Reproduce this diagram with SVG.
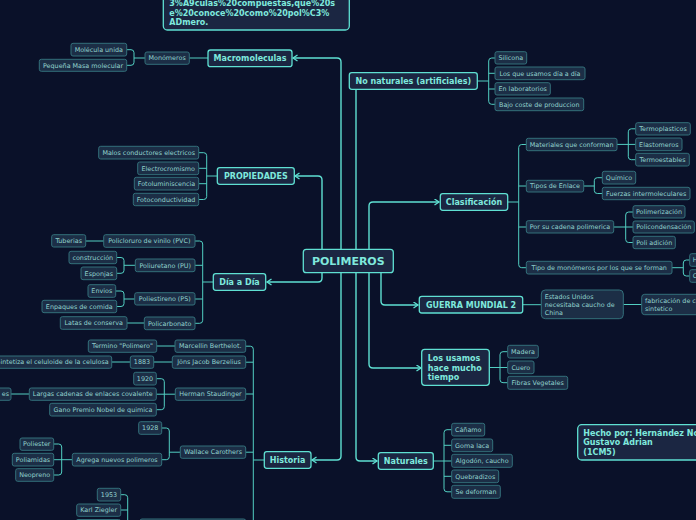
<svg xmlns="http://www.w3.org/2000/svg" width="696" height="520" viewBox="0 0 696 520">
<style>
.m{fill:#1b2642;stroke:#5fe0d2;stroke-width:1.3}
.mt{font-family:"DejaVu Sans",sans-serif;font-weight:bold;font-size:8px;fill:#7fe9dd}
.s{fill:#1c2e46;stroke:#33707b;stroke-width:1}
.st{font-family:"DejaVu Sans",sans-serif;font-size:6.4px;fill:#92d3ce}
.c{fill:none;stroke:#5fe0d2;stroke-width:1.4}
.sc{fill:none;stroke:#52cfc2;stroke-width:1}
</style>
<defs>
<marker id="ar" markerWidth="8" markerHeight="8" refX="5" refY="3.5" orient="auto" markerUnits="userSpaceOnUse">
<path d="M0.5,0.5 L5,3.5 L0.5,6.5" fill="none" stroke="#5fe0d2" stroke-width="1.3"/>
</marker>
</defs>
<rect width="696" height="520" fill="#0a1129"/>

<g id="connectors">
<path class="c" d="M341,249 V62 Q341,58 337,58 H293" marker-end="url(#ar)"/>
<path class="c" d="M341,273 V456 Q341,460 337,460 H312" marker-end="url(#ar)"/>
<path class="c" d="M322,249 V180 Q322,176 318,176 H295" marker-end="url(#ar)"/>
<path class="c" d="M322,273 V278 Q322,282 318,282 H267" marker-end="url(#ar)"/>
<path class="c" d="M356,249 V89.5"/>
<path class="c" d="M356,273 V457 Q356,461 360,461 H377" marker-end="url(#ar)"/>
<path class="c" d="M369,249 V206 Q369,202 373,202 H439" marker-end="url(#ar)"/>
<path class="c" d="M369,273 V364 Q369,368 373,368 H421" marker-end="url(#ar)"/>
<path class="c" d="M381,273 V301 Q381,305 385,305 H418" marker-end="url(#ar)"/>

<path class="sc" d="M189,58 H208"/>
<path class="sc" d="M127,49.7 H131 Q134,49.7 134,52.7 V62.3 Q134,65.3 131,65.3 H127 M134,58 H145"/>
<path class="sc" d="M199,152.7 H203.7 Q206.7,152.7 206.7,155.7 V196.5 Q206.7,199.5 203.7,199.5 H199 M199,168.3 H206.7 M199,183.7 H206.7 M206.7,176 H217"/>
<path class="sc" d="M195,241 H199.7 Q202.7,241 202.7,244 V320.3 Q202.7,323.3 199.7,323.3 H195 M195,265.3 H202.7 M195,299 H202.7 M202.7,282 H213"/>
<path class="sc" d="M86,241 H104"/>
<path class="sc" d="M117,257.5 H121 Q124,257.5 124,260.5 V270.3 Q124,273.3 121,273.3 H117 M124,265.3 H135"/>
<path class="sc" d="M116,291 H121 Q124,291 124,294 V303.5 Q124,306.5 121,306.5 H117 M124,299 H135"/>
<path class="sc" d="M127,323 H144"/>
<path class="sc" d="M245.7,346.2 H250.3 Q253.3,346.2 253.3,349.2 V530 M245.7,362.2 H253.3 M245.7,394 H253.3 M245.7,452.2 H253.3 M253.3,460 H264"/>
<path class="sc" d="M156.7,346 H175 M153.7,362 H172 M111.7,362 H130"/>
<path class="sc" d="M156.3,378.7 H161.3 Q164.3,378.7 164.3,381.7 V406.7 Q164.3,409.7 161.3,409.7 H156.3 M156.3,394.2 H175"/>
<path class="sc" d="M11,394 H29"/>
<path class="sc" d="M161.7,428 H166.3 Q169.3,428 169.3,431 V456.7 Q169.3,459.7 166.3,459.7 H161.7 M169.3,452.2 H180"/>
<path class="sc" d="M53.7,444 H58.7 Q61.7,444 61.7,447 V472 Q61.7,475 58.7,475 H53.7 M53.7,459.7 H72"/>
<path class="sc" d="M120.7,494.7 H124.7 Q127.7,494.7 127.7,497.7 V530 M120.7,510 H127.7"/>
<path class="sc" d="M495,58 H491.7 Q488.7,58 488.7,61 V101.3 Q488.7,104.3 491.7,104.3 H495 M495,73.3 H488.7 M495,89 H488.7 M477,81 H488.7"/>
<path class="sc" d="M526.3,144.5 H521.7 Q518.7,144.5 518.7,147.5 V264.7 Q518.7,267.7 521.7,267.7 H526.3 M526.3,186 H518.7 M526.3,227 H518.7 M508,202 H518.7"/>
<path class="sc" d="M635.7,128.8 H631.3 Q628.3,128.8 628.3,131.8 V156.7 Q628.3,159.7 631.3,159.7 H635.7 M617,144.4 H635.7"/>
<path class="sc" d="M602.3,177.7 H597.3 Q594.3,177.7 594.3,180.7 V190.5 Q594.3,193.5 597.3,193.5 H602.3 M583.7,186 H594.3"/>
<path class="sc" d="M633,212 H628.7 Q625.7,212 625.7,215 V239.5 Q625.7,242.5 628.7,242.5 H633 M613.7,227 H633"/>
<path class="sc" d="M689.7,260 H686.3 Q683.3,260 683.3,263 V273 Q683.3,276 686.3,276 H689.7 M672,267.7 H683.3"/>
<path class="sc" d="M522.7,304.7 H541.3 M623.3,304.5 H641.7"/>
<path class="sc" d="M507.7,351.7 H503 Q500,351.7 500,354.7 V379.7 Q500,382.7 503,382.7 H507.7 M489.3,367.5 H507.7"/>
<path class="sc" d="M451.7,429.7 H447 Q444,429.7 444,432.7 V488.8 Q444,491.8 447,491.8 H451.7 M451.7,445.3 H444 M451.7,476.3 H444 M433.3,461 H451.7"/>
</g>

<g id="note-top">
<rect class="m" x="163.3" y="-40" width="186" height="70" rx="4" fill="#1e2746"/>
<text class="mt" x="169.3" y="6.2">3%A9culas%20compuestas,que%20s</text>
<text class="mt" x="169.3" y="15.9">e%20conoce%20como%20pol%C3%</text>
<text class="mt" x="169.3" y="25.3">ADmero.</text>
</g>

<g id="polimeros">
<rect class="m" x="303.3" y="249.3" width="90" height="23.4" rx="3" stroke-width="1.6"/>
<text class="mt" x="348.3" y="265" text-anchor="middle" font-size="11px" style="font-size:11px">POLIMEROS</text>
</g>

<g id="macromoleculas">
<rect class="m" x="208" y="50" width="84" height="16.7" rx="2.5"/>
<text class="mt" x="250" y="61.3" text-anchor="middle">Macromoleculas</text>
</g>
<g id="monomeros"><rect class="s" x="145" y="52" width="44.3" height="12.3" rx="2"/><text class="st" x="167.1" y="60.4" text-anchor="middle">Monómeros</text></g>
<g id="molecula-unida"><rect class="s" x="71" y="43.3" width="55.7" height="12.7" rx="2"/><text class="st" x="98.8" y="51.9" text-anchor="middle">Molécula unida</text></g>
<g id="pequena-masa"><rect class="s" x="39.3" y="59.3" width="87.4" height="12" rx="2"/><text class="st" x="83" y="67.6" text-anchor="middle">Pequeña Masa molecular</text></g>

<g id="propiedades">
<rect class="m" x="217.3" y="167.7" width="77" height="16.6" rx="2.5"/>
<text class="mt" x="255.8" y="178.9" text-anchor="middle">PROPIEDADES</text>
</g>
<g id="malos-conductores"><rect class="s" x="98.7" y="146.3" width="100" height="12.7" rx="2"/><text class="st" x="148.7" y="154.9" text-anchor="middle">Malos conductores electricos</text></g>
<g id="electrocromismo"><rect class="s" x="137.7" y="162" width="61" height="12.7" rx="2"/><text class="st" x="168.2" y="170.6" text-anchor="middle">Electrocromismo</text></g>
<g id="fotoluminiscencia"><rect class="s" x="134.3" y="177.3" width="64.4" height="12.7" rx="2"/><text class="st" x="166.5" y="185.9" text-anchor="middle">Fotoluminiscencia</text></g>
<g id="fotoconductividad"><rect class="s" x="133.3" y="193.3" width="65.4" height="12.4" rx="2"/><text class="st" x="166" y="201.8" text-anchor="middle">Fotoconductividad</text></g>

<g id="dia-a-dia">
<rect class="m" x="213.3" y="273.7" width="52.4" height="16.6" rx="2.5"/>
<text class="mt" x="239.5" y="284.9" text-anchor="middle">Día a Día</text>
</g>
<g id="pvc"><rect class="s" x="103.7" y="234.7" width="91.3" height="12.6" rx="2"/><text class="st" x="149.3" y="243.3" text-anchor="middle">Policloruro de vinilo (PVC)</text></g>
<g id="pu"><rect class="s" x="135.3" y="259" width="59.7" height="12.7" rx="2"/><text class="st" x="165.2" y="267.6" text-anchor="middle">Poliuretano (PU)</text></g>
<g id="ps"><rect class="s" x="134.7" y="292.7" width="60.3" height="12.3" rx="2"/><text class="st" x="164.8" y="301.1" text-anchor="middle">Poliestireno (PS)</text></g>
<g id="policarbonato"><rect class="s" x="144.3" y="317" width="50.7" height="12.7" rx="2"/><text class="st" x="169.7" y="325.6" text-anchor="middle">Policarbonato</text></g>
<g id="tuberias"><rect class="s" x="51.7" y="234.7" width="34" height="12.3" rx="2"/><text class="st" x="68.7" y="243.1" text-anchor="middle">Tuberias</text></g>
<g id="construccion"><rect class="s" x="69" y="251.3" width="47.7" height="12.4" rx="2"/><text class="st" x="92.8" y="259.8" text-anchor="middle">construcción</text></g>
<g id="esponjas"><rect class="s" x="81" y="267" width="35.7" height="12.7" rx="2"/><text class="st" x="98.8" y="275.6" text-anchor="middle">Esponjas</text></g>
<g id="envios"><rect class="s" x="88" y="284.7" width="27.7" height="12.6" rx="2"/><text class="st" x="101.8" y="293.3" text-anchor="middle">Envios</text></g>
<g id="enpaques"><rect class="s" x="42" y="300.3" width="74.7" height="12.4" rx="2"/><text class="st" x="79.3" y="308.8" text-anchor="middle">Enpaques de comida</text></g>
<g id="latas"><rect class="s" x="60.3" y="316.7" width="66.7" height="12.6" rx="2"/><text class="st" x="93.7" y="325.3" text-anchor="middle">Latas de conserva</text></g>

<g id="historia">
<rect class="m" x="264.3" y="451.7" width="46.7" height="16.6" rx="2.5"/>
<text class="mt" x="287.6" y="462.9" text-anchor="middle">Historia</text>
</g>
<g id="berthelot"><rect class="s" x="175" y="340" width="70.7" height="12.3" rx="2"/><text class="st" x="210.3" y="348.4" text-anchor="middle">Marcellin Berthelot.</text></g>
<g id="berzelius"><rect class="s" x="172.3" y="356" width="73.4" height="12.3" rx="2"/><text class="st" x="209" y="364.4" text-anchor="middle">Jöns Jacob Berzelius</text></g>
<g id="staudinger"><rect class="s" x="175.3" y="388" width="70.4" height="12.3" rx="2"/><text class="st" x="210.5" y="396.4" text-anchor="middle">Herman Staudinger</text></g>
<g id="carothers"><rect class="s" x="180.3" y="446" width="65.4" height="12.3" rx="2"/><text class="st" x="213" y="454.4" text-anchor="middle">Wallace Carothers</text></g>
<g id="historia-5"><rect class="s" x="140" y="519" width="105.7" height="12.3" rx="2"/></g>
<g id="termino"><rect class="s" x="88.3" y="340" width="68.4" height="12.3" rx="2"/><text class="st" x="122.5" y="348.4" text-anchor="middle">Termino "Polimero"</text></g>
<g id="y1883"><rect class="s" x="130.3" y="356" width="23.4" height="12.3" rx="2"/><text class="st" x="142" y="364.4" text-anchor="middle">1883</text></g>
<g id="celuloide"><rect class="s" x="-40" y="356" width="151.7" height="12.3" rx="2"/><text class="st" x="108.7" y="364.4" text-anchor="end">Sintetiza el celuloide de la celulosa</text></g>
<g id="y1920"><rect class="s" x="133.7" y="372.3" width="22.6" height="12.7" rx="2"/><text class="st" x="145" y="380.9" text-anchor="middle">1920</text></g>
<g id="largas"><rect class="s" x="29.3" y="388" width="127" height="12.3" rx="2"/><text class="st" x="92.8" y="396.4" text-anchor="middle">Largas cadenas de enlaces covalente</text></g>
<g id="largas-hijo"><rect class="s" x="-30" y="388" width="41" height="12.3" rx="2"/><text class="st" x="9" y="396.4" text-anchor="end">es</text></g>
<g id="nobel"><rect class="s" x="49.7" y="403.3" width="106.6" height="12.7" rx="2"/><text class="st" x="103" y="411.9" text-anchor="middle">Gano Premio Nobel de quimica</text></g>
<g id="y1928"><rect class="s" x="138.7" y="421.7" width="23" height="12.6" rx="2"/><text class="st" x="150.2" y="430.3" text-anchor="middle">1928</text></g>
<g id="agrega"><rect class="s" x="72.3" y="453.3" width="89.4" height="12.7" rx="2"/><text class="st" x="117" y="461.9" text-anchor="middle">Agrega nuevos polimeros</text></g>
<g id="poliester"><rect class="s" x="20" y="438" width="33.7" height="12.3" rx="2"/><text class="st" x="36.8" y="446.4" text-anchor="middle">Poliester</text></g>
<g id="poliamidas"><rect class="s" x="12.3" y="453.3" width="41.4" height="12.7" rx="2"/><text class="st" x="33" y="461.9" text-anchor="middle">Poliamidas</text></g>
<g id="neopreno"><rect class="s" x="15.7" y="468.7" width="38" height="12.6" rx="2"/><text class="st" x="34.7" y="477.3" text-anchor="middle">Neopreno</text></g>
<g id="y1953"><rect class="s" x="97.3" y="488.3" width="23.4" height="12.7" rx="2"/><text class="st" x="109" y="496.9" text-anchor="middle">1953</text></g>
<g id="ziegler"><rect class="s" x="76.7" y="504" width="44" height="12.3" rx="2"/><text class="st" x="98.7" y="512.4" text-anchor="middle">Karl Ziegler</text></g>
<g id="hijo-1953"><rect class="s" x="76" y="519.5" width="44.7" height="12.3" rx="2"/></g>

<g id="no-naturales">
<rect class="m" x="349.3" y="72.7" width="128" height="16.6" rx="2.5"/>
<text class="mt" x="413.3" y="83.9" text-anchor="middle">No naturales (artificiales)</text>
</g>
<g id="silicona"><rect class="s" x="495" y="51.7" width="31.7" height="12.3" rx="2"/><text class="st" x="510.8" y="60.1" text-anchor="middle">Silicona</text></g>
<g id="usamos-dia"><rect class="s" x="495" y="67" width="90" height="12.7" rx="2"/><text class="st" x="540" y="75.6" text-anchor="middle">Los que usamos día a día</text></g>
<g id="laboratorios"><rect class="s" x="495" y="82.7" width="55.3" height="12.3" rx="2"/><text class="st" x="522.7" y="91.1" text-anchor="middle">En laboratorios</text></g>
<g id="bajo-coste"><rect class="s" x="495" y="98" width="88.7" height="12.7" rx="2"/><text class="st" x="539.3" y="106.6" text-anchor="middle">Bajo coste de produccion</text></g>

<g id="clasificacion">
<rect class="m" x="440.3" y="193.7" width="67.4" height="16.6" rx="2.5"/>
<text class="mt" x="474" y="204.9" text-anchor="middle">Clasificación</text>
</g>
<g id="materiales"><rect class="s" x="526.3" y="138.3" width="90.7" height="12.4" rx="2"/><text class="st" x="571.7" y="146.8" text-anchor="middle">Materiales que conforman</text></g>
<g id="tipos-enlace"><rect class="s" x="526.3" y="180.3" width="57.4" height="11.7" rx="2"/><text class="st" x="555" y="188.4" text-anchor="middle">Tipos de Enlace</text></g>
<g id="cadena"><rect class="s" x="526.3" y="220.7" width="87.4" height="12.3" rx="2"/><text class="st" x="570" y="229.1" text-anchor="middle">Por su cadena polimerica</text></g>
<g id="tipo-monomeros"><rect class="s" x="526.3" y="261.3" width="145.7" height="12.7" rx="2"/><text class="st" x="599.2" y="269.9" text-anchor="middle">Tipo de monómeros por los que se forman</text></g>
<g id="termoplasticos"><rect class="s" x="635.7" y="122.7" width="54.6" height="12.3" rx="2"/><text class="st" x="663" y="131.1" text-anchor="middle">Termoplasticos</text></g>
<g id="elastomeros"><rect class="s" x="635.7" y="138" width="46.3" height="12.7" rx="2"/><text class="st" x="658.8" y="146.6" text-anchor="middle">Elastomeros</text></g>
<g id="termoestables"><rect class="s" x="635.7" y="153.3" width="53.6" height="12.7" rx="2"/><text class="st" x="662.5" y="161.9" text-anchor="middle">Termoestables</text></g>
<g id="quimico"><rect class="s" x="602.3" y="171.3" width="33.4" height="12.7" rx="2"/><text class="st" x="619" y="179.9" text-anchor="middle">Químico</text></g>
<g id="fuerzas"><rect class="s" x="602.3" y="187.3" width="87.7" height="12.4" rx="2"/><text class="st" x="646.2" y="195.8" text-anchor="middle">Fuerzas intermoleculares</text></g>
<g id="polimerizacion"><rect class="s" x="633" y="205.7" width="52" height="12.3" rx="2"/><text class="st" x="659" y="214.1" text-anchor="middle">Polimerización</text></g>
<g id="policondensacion"><rect class="s" x="633" y="221" width="61.3" height="12" rx="2"/><text class="st" x="663.7" y="229.2" text-anchor="middle">Policondensación</text></g>
<g id="poli-adicion"><rect class="s" x="633" y="236.3" width="42.3" height="12.4" rx="2"/><text class="st" x="654.2" y="244.8" text-anchor="middle">Poli adición</text></g>
<g id="homopolimeros"><rect class="s" x="689.7" y="253.7" width="50" height="12.6" rx="2"/><text class="st" x="692.7" y="262.3">Homopolímeros</text></g>
<g id="copolimeros"><rect class="s" x="689.7" y="269.7" width="50" height="12.6" rx="2"/><text class="st" x="692.7" y="278.3">Copolímeros</text></g>

<g id="guerra">
<rect class="m" x="419.3" y="296.3" width="103.4" height="16.7" rx="2.5"/>
<text class="mt" x="471" y="307.6" text-anchor="middle">GUERRA MUNDIAL 2</text>
</g>
<g id="estados-unidos"><rect class="s" x="541.3" y="290" width="82" height="28.7" rx="4"/>
<text class="st" x="544.7" y="299">Estados Unidos</text>
<text class="st" x="544.7" y="307">necesitaba caucho de</text>
<text class="st" x="544.7" y="314.7">China</text></g>
<g id="fabricacion"><rect class="s" x="641.7" y="294.3" width="80" height="20.4" rx="3"/>
<text class="st" x="645" y="302.6">fabricación de caucho</text>
<text class="st" x="645" y="310.6">sintetico</text></g>

<g id="los-usamos">
<rect class="m" x="421.7" y="349.3" width="67.6" height="36" rx="3"/>
<text class="mt" x="427.7" y="361.2">Los usamos</text>
<text class="mt" x="427.7" y="370.6">hace mucho</text>
<text class="mt" x="427.7" y="380">tiempo</text>
</g>
<g id="madera"><rect class="s" x="507.7" y="345.3" width="30.6" height="12.7" rx="2"/><text class="st" x="523" y="353.9" text-anchor="middle">Madera</text></g>
<g id="cuero"><rect class="s" x="507.7" y="361" width="26.3" height="12.7" rx="2"/><text class="st" x="520.8" y="369.6" text-anchor="middle">Cuero</text></g>
<g id="fibras"><rect class="s" x="507.7" y="376.3" width="60" height="13" rx="2"/><text class="st" x="537.7" y="385" text-anchor="middle">Fibras Vegetales</text></g>

<g id="naturales">
<rect class="m" x="378.3" y="452.7" width="55" height="16.6" rx="2.5"/>
<text class="mt" x="405.8" y="463.9" text-anchor="middle">Naturales</text>
</g>
<g id="canamo"><rect class="s" x="451.7" y="423.3" width="33" height="12.7" rx="2"/><text class="st" x="468.2" y="431.9" text-anchor="middle">Cáñamo</text></g>
<g id="goma-laca"><rect class="s" x="451.7" y="439" width="41" height="12.7" rx="2"/><text class="st" x="472.2" y="447.6" text-anchor="middle">Goma laca</text></g>
<g id="algodon"><rect class="s" x="451.7" y="454.3" width="60.6" height="13" rx="2"/><text class="st" x="482" y="463" text-anchor="middle">Algodón, caucho</text></g>
<g id="quebradizos"><rect class="s" x="451.7" y="470" width="47" height="12.7" rx="2"/><text class="st" x="475.2" y="478.6" text-anchor="middle">Quebradizos</text></g>
<g id="se-deforman"><rect class="s" x="451.7" y="485.3" width="48.6" height="13" rx="2"/><text class="st" x="476" y="494" text-anchor="middle">Se deforman</text></g>

<g id="hecho-por">
<rect class="m" x="577.7" y="424.7" width="140" height="35.3" rx="4" fill="#1e2746"/>
<text class="mt" x="583.3" y="436.2">Hecho por: Hernández No</text>
<text class="mt" x="583.3" y="445.3">Gustavo Adrian</text>
<text class="mt" x="583.3" y="455">(1CM5)</text>
</g>
</svg>
